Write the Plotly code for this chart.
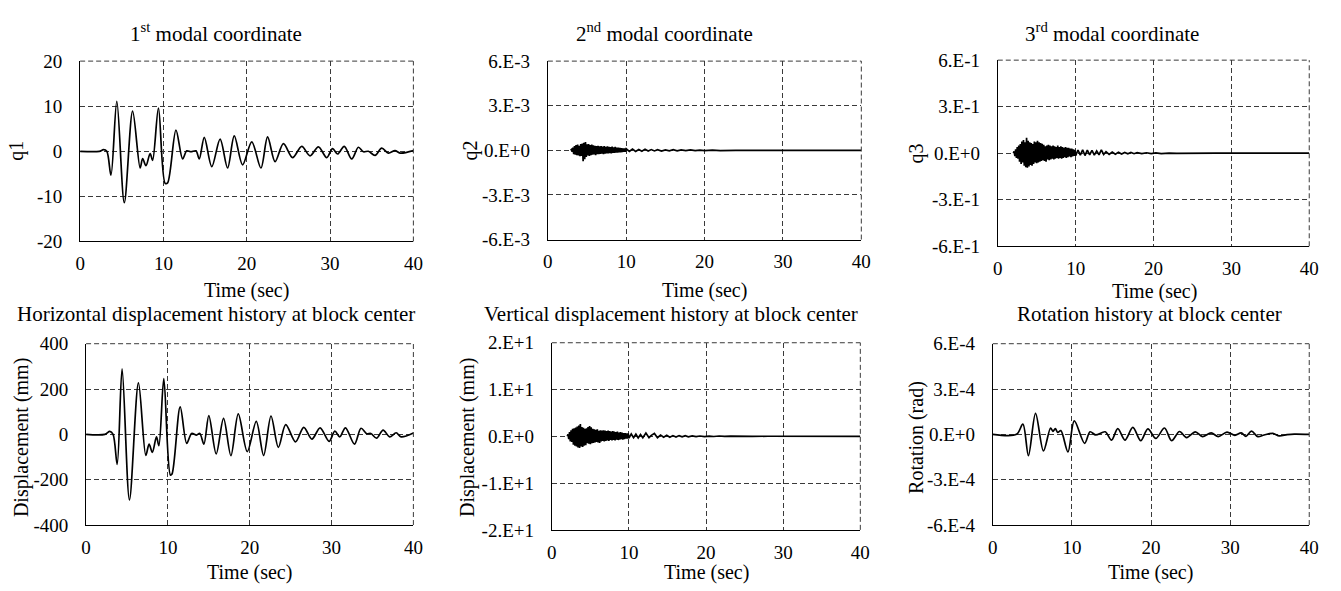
import plotly.graph_objects as go

# ---------------- data ----------------
# 1st modal coordinate q1
q1_t = [0, 2.3, 2.8, 3.2, 3.7, 4.4, 5.3, 6.3, 7.2, 7.5, 7.9, 8.4, 8.7, 9.4, 10.2, 10.5, 11.5, 12.3, 12.8,
        13.3, 13.9, 14.3, 14.9, 15.8, 16.8, 17.7, 18.5, 19.5, 20.6, 21.7, 22.5, 23.4, 24.4, 25.5, 26.6,
        27.6, 28.6, 29.6, 30.3, 30.9, 31.7, 32.6, 33.4, 34.0, 34.6, 35.4, 36.2, 37.0, 37.8, 38.4, 40]
q1_v = [0, 0, 0.35, 0, -5.3, 11.1, -11.4, 8.9, -3.7, -1.6, -3.2, -0.5, -2.0, 9.6, -7.1, -7.0, 4.7, -1.7, 0.1,
        -0.1, 0.1, -1.7, 3.1, -3.4, 2.7, -3.7, 3.4, -3.0, 2.1, -3.7, 3.2, -2.3, 1.7, -1.4, 1.1,
        -1.0, 1.0, -1.4, 0.6, -0.6, 1.1, -1.7, 0.9, -0.1, 0.0, -0.9, 0.7, -0.4, 0.15, -0.4, 0.15]

# 2nd modal coordinate q2 (dense part sampled every 0.1 s from 2.9 s)
q2_dense_start = 2.9
q2_dense = [0, 0.5e-4, -1.0e-4, 1.8e-4, -2.5e-4, 2.8e-4, -3.0e-4, 3.5e-4, -3.2e-4, 3.8e-4, -3.5e-4,
            3.0e-4, -4.0e-4, 4.2e-4, -3.8e-4, 4.5e-4, -7.3e-4, 5.0e-4, -6.0e-4, 5.6e-4, -4.5e-4,
            4.0e-4, -3.5e-4, 4.2e-4, -3.8e-4, 3.6e-4, -3.2e-4, 3.8e-4, -3.0e-4, 3.4e-4, -2.8e-4,
            3.0e-4, -3.2e-4, 2.8e-4, -2.6e-4, 3.1e-4, -2.5e-4, 2.7e-4, -2.4e-4, 2.9e-4, -2.2e-4,
            2.5e-4, -2.6e-4, 2.9e-4, -2.3e-4, 2.4e-4, -2.0e-4, 2.6e-4, -2.1e-4, 2.3e-4, -1.9e-4,
            2.2e-4, -2.0e-4, 2.5e-4, -1.8e-4, 2.0e-4, -1.7e-4, 2.3e-4, -1.6e-4, 1.9e-4, -1.5e-4,
            1.8e-4, -1.4e-4, 1.6e-4, -1.3e-4, 1.5e-4, -1.2e-4, 1.3e-4, -1.0e-4, 1.2e-4, -0.9e-4,
            1.0e-4]
q2_tail_t = [10.4, 10.8, 11.2, 11.6, 12.0, 12.4, 12.8, 13.2, 13.6, 14.0, 14.5, 15.0, 15.5, 16.0, 16.5,
             17.0, 17.6, 18.2, 18.8, 19.4, 20.0, 21.0, 22.0, 23.0, 24.0, 25.0, 27.0, 30.0, 40.0]
q2_tail_v = [-0.8e-4, 0.9e-4, -0.7e-4, 0.6e-4, -0.6e-4, 0.8e-4, -0.5e-4, 0.5e-4, -0.4e-4, 0.4e-4,
             -0.5e-4, 0.3e-4, -0.3e-4, 0.4e-4, -0.3e-4, 0.3e-4, -0.2e-4, 0.25e-4, -0.2e-4, 0.15e-4,
             -0.15e-4, 0.12e-4, -0.15e-4, 0.1e-4, -0.08e-4, 0.05e-4, -0.03e-4, 0, 0]

# 3rd modal coordinate q3 (dense part sampled every 0.1 s from 2.0 s)
q3_dense_start = 2.0
q3_dense = [0.0, 0.012, -0.018, 0.025, -0.03, 0.04, -0.035, 0.05, -0.055, 0.06,
            -0.07, 0.075, -0.06, 0.085, -0.08, 0.07, -0.09, 0.10, -0.093, 0.08,
            -0.085, 0.07, -0.075, 0.065, -0.08, 0.06, -0.07, 0.075, -0.06, 0.07,
            -0.065, 0.08, -0.06, 0.07, -0.055, 0.065, -0.05, 0.06, -0.045, 0.055,
            -0.05, 0.045, -0.055, 0.05, -0.04, 0.055, -0.045, 0.05, -0.04, 0.045,
            -0.035, 0.05, -0.04, 0.045, -0.035, 0.04, -0.03, 0.05, -0.035, 0.04,
            -0.03, 0.045, -0.035, 0.04, -0.03, 0.035, -0.025, 0.04, -0.03, 0.035,
            -0.025, 0.035, -0.02, 0.03, -0.025, 0.03, -0.02, 0.025, -0.018, 0.022,
            -0.015]
q3_tail_t = [10.3, 10.6, 10.9, 11.2, 11.5, 11.8, 12.1, 12.4, 12.7, 13.0, 13.3, 13.6, 13.9, 14.3, 14.7,
             15.1, 15.5, 15.9, 16.3, 16.7, 17.1, 17.5, 17.9, 18.5, 19.1, 19.7, 20.3, 21.0, 22.0, 23.0,
             25.0, 28.0, 40.0]
q3_tail_v = [0.02, -0.012, 0.022, -0.015, 0.02, -0.01, 0.018, -0.012, 0.015, -0.01, 0.022, -0.008, 0.01,
             -0.008, 0.008, -0.006, 0.006, -0.005, 0.005, -0.004, 0.005, -0.003, 0.004, -0.003, 0.003,
             -0.002, 0.002, -0.002, 0.001, -0.001, 0.0005, 0, 0]

# Horizontal displacement at block center (mm)
hd_t = [0, 2.3, 2.9, 3.3, 3.8, 4.4, 5.3, 6.4, 7.3, 7.7, 8.1, 8.6, 8.9, 9.5, 10.3, 10.5, 11.5, 12.3, 12.9,
        13.5, 13.9, 14.4, 15.0, 15.9, 16.8, 17.7, 18.6, 19.7, 20.8, 21.7, 22.6, 23.5, 24.4, 25.6, 26.6,
        27.6, 28.6, 29.7, 30.4, 31.0, 31.7, 32.8, 33.6, 34.3, 34.8, 35.5, 36.3, 37.1, 37.9, 38.5, 40]
hd_v = [0, 0, 13, 0, -133, 289, -289, 227, -93, -43, -79, -11, -50, 246, -179, -175, 121, -40, 4,
        -3, 4, -43, 83, -86, 71, -94, 90, -76, 57, -93, 81, -57, 43, -33, 31,
        -21, 29, -31, 14, -11, 29, -43, 27, 3, 4, -17, 19, -11, 7, -11, 6]

# Vertical displacement at block center (mm) (dense part every 0.1 s from 2.0 s)
vd_dense_start = 2.0
vd_dense = [0.0, 0.4, -0.6, 0.9, -1.1, 1.3, -1.2, 1.6, -1.8, 1.7,
            -2.0, 1.9, -2.2, 2.1, -2.4, 2.3, -2.5, 2.6, -2.2, 2.0,
            -2.3, 1.8, -2.0, 1.6, -1.9, 1.7, -1.5, 2.0, -1.6, 2.2,
            -1.7, 1.9, -1.5, 1.6, -1.4, 1.5, -1.3, 1.4, -1.2, 1.5,
            -1.3, 1.2, -1.4, 1.3, -1.1, 1.2, -1.0, 1.3, -1.1, 1.2,
            -1.0, 1.1, -0.9, 1.2, -1.0, 1.1, -0.8, 1.0, -0.9, 1.1,
            -0.8, 1.0, -0.9, 0.9, -0.7, 1.0, -0.8, 0.8, -0.7, 0.9,
            -0.6, 0.8, -0.7, 0.7, -0.6, 0.7, -0.5, 0.6, -0.5, 0.6,
            -0.4]
vd_tail_t = [10.3, 10.6, 10.9, 11.2, 11.5, 11.8, 12.2, 12.6, 12.9, 13.3, 13.7, 14.1, 14.5, 14.9, 15.3,
             15.7, 16.1, 16.5, 16.9, 17.3, 17.7, 18.2, 18.7, 19.2, 19.8, 20.4, 21.0, 21.7, 22.4, 23.2,
             24.0, 25.0, 26.0, 28.0, 30.0, 40.0]
vd_tail_v = [0.5, -0.3, 0.45, -0.35, 0.4, -0.3, 0.7, -0.3, 0.2, 0.6, -0.3, 0.25, -0.2, 0.2, -0.2,
             0.15, -0.15, 0.15, -0.12, 0.12, -0.1, 0.08, -0.08, 0.06, -0.06, 0.05, -0.04, 0.06, -0.03, 0.03,
             -0.02, 0.02, -0.01, 0.01, 0, 0]

# Rotation at block center (rad)
rot_t = [0, 3.0, 3.8, 4.5, 5.4, 6.4, 7.3, 7.6, 7.9, 8.2, 8.6, 9.5, 10.3, 11.6, 12.3, 13.0, 14.2, 15.0, 15.8,
         16.7, 17.7, 18.7, 19.6, 20.6, 21.7, 22.6, 23.6, 24.5, 25.6, 26.5, 27.6, 28.5, 29.6, 30.6, 31.4,
         32.0, 32.7, 33.5, 34.3, 35.4, 36.2, 37.2, 38.1, 40]
rot_v = [0, 0, 0.68e-4, -1.41e-4, 1.39e-4, -1.1e-4, 0.42e-4, 0.2e-4, 0.38e-4, 0.13e-4, 0.25e-4, -1.16e-4,
         0.89e-4, -0.59e-4, 0.17e-4, -0.04e-4, 0.17e-4, -0.38e-4, 0.38e-4, -0.38e-4, 0.46e-4, -0.42e-4,
         0.36e-4, -0.27e-4, 0.42e-4, -0.42e-4, 0.19e-4, -0.21e-4, 0.17e-4, -0.15e-4, 0.1e-4, -0.15e-4,
         0.15e-4, -0.06e-4, 0.1e-4, -0.13e-4, 0.21e-4, -0.15e-4, -0.04e-4, 0.06e-4, -0.1e-4, -0.02e-4,
         0.02e-4, 0]

x_ticks = [0, 10, 20, 30, 40]
q1_ticks = [-20, -10, 0, 10, 20]
q1_labels = ["-20", "-10", "0", "10", "20"]
q2_ticks = [-6e-3, -3e-3, 0, 3e-3, 6e-3]
q2_labels = ["-6.E-3", "-3.E-3", "0.E+0", "3.E-3", "6.E-3"]
q3_ticks = [-0.6, -0.3, 0, 0.3, 0.6]
q3_labels = ["-6.E-1", "-3.E-1", "0.E+0", "3.E-1", "6.E-1"]
hd_ticks = [-400, -200, 0, 200, 400]
hd_labels = ["-400", "-200", "0", "200", "400"]
vd_ticks = [-20, -10, 0, 10, 20]
vd_labels = ["-2.E+1", "-1.E+1", "0.E+0", "1.E+1", "2.E+1"]
rot_ticks = [-6e-4, -3e-4, 0, 3e-4, 6e-4]
rot_labels = ["-6.E-4", "-3.E-4", "0.E+0", "3.E-4", "6.E-4"]

titles = ["1<sup>st</sup> modal coordinate", "2<sup>nd</sup> modal coordinate", "3<sup>rd</sup> modal coordinate",
          "Horizontal displacement history at block center", "Vertical displacement history at block center",
          "Rotation history at block center"]
y_titles = ["q1", "q2", "q3", "Displacement (mm)", "Displacement (mm)", "Rotation (rad)"]
x_title = "Time (sec)"


def dense_times(start, n):
    return [round(start + 0.1 * i, 2) for i in range(n)]


series = [
    (q1_t, q1_v),
    (dense_times(q2_dense_start, len(q2_dense)) + q2_tail_t, q2_dense + q2_tail_v),
    (dense_times(q3_dense_start, len(q3_dense)) + q3_tail_t, q3_dense + q3_tail_v),
    (hd_t, hd_v),
    (dense_times(vd_dense_start, len(vd_dense)) + vd_tail_t, vd_dense + vd_tail_v),
    (rot_t, rot_v),
]
smooth = [True, False, False, True, False, True]
yt = [(q1_ticks, q1_labels), (q2_ticks, q2_labels), (q3_ticks, q3_labels),
      (hd_ticks, hd_labels), (vd_ticks, vd_labels), (rot_ticks, rot_labels)]

# ---------------- layout (pixel boxes) ----------------
W, H = 1341, 591
boxes = [(76, 413, 53, 240), (549, 866, 53, 238), (1004, 1319, 52, 245),
         (82, 413, 346, 534), (553, 865, 345, 539), (999, 1319, 346, 534)]
title_pos = [(213, 23), (667, 23), (1120, 23), (213, 315), (674, 315), (1157, 315)]
xt_pos = [(244, 291), (707, 291), (1162, 292), (247, 583), (709, 583), (1158, 583)]
yt_pos = [(12, 146), (471, 146), (922, 149), (16, 443), (467, 443), (922, 443)]

FONT = "Liberation Serif"
GRID = "#3a3a3a"
fig = go.Figure()
annotations = []
shapes = []
for i, ((tx, ty), sm) in enumerate(zip(series, smooth)):
    k = "" if i == 0 else str(i + 1)
    fig.add_trace(go.Scatter(x=tx, y=ty, mode="lines",
                             line=dict(color="black", width=1.7, shape="spline" if sm else "linear",
                                       smoothing=0.9),
                             xaxis="x" + k, yaxis="y" + k, showlegend=False, hoverinfo="skip"))
    x0, x1, y0, y1 = boxes[i]
    common = dict(showgrid=True, gridcolor=GRID, gridwidth=1, griddash="5px,3px",
                  zeroline=False, showline=True, linecolor="black", linewidth=1, mirror=False,
                  ticks="", tickfont=dict(family=FONT, size=19, color="black"))
    fig.update_layout(**{
        "xaxis" + k: dict(domain=[x0 / W, x1 / W], range=[0, 40], tickvals=x_ticks,
                          anchor="y" + k, ticklabelstandoff=5, **common),
        "yaxis" + k: dict(domain=[1 - y1 / H, 1 - y0 / H], range=[yt[i][0][0], yt[i][0][-1]],
                          tickvals=yt[i][0], ticktext=yt[i][1], anchor="x" + k,
                          ticklabelstandoff=13, **common),
    })
    # dashed top and right borders of the plot frame
    shapes.append(dict(type="line", xref="x" + k + " domain", yref="y" + k + " domain",
                       x0=0, x1=1, y0=1, y1=1, line=dict(color=GRID, width=1, dash="5px,3px")))
    shapes.append(dict(type="line", xref="x" + k + " domain", yref="y" + k + " domain",
                       x0=1, x1=1, y0=0, y1=1, line=dict(color=GRID, width=1, dash="5px,3px")))
    annotations.append(dict(text=titles[i], x=title_pos[i][0] / W, y=1 - title_pos[i][1] / H,
                            xref="paper", yref="paper", showarrow=False, xanchor="center", yanchor="middle",
                            font=dict(family=FONT, size=21, color="black")))
    annotations.append(dict(text=x_title, x=xt_pos[i][0] / W, y=1 - xt_pos[i][1] / H,
                            xref="paper", yref="paper", showarrow=False, xanchor="center", yanchor="middle",
                            font=dict(family=FONT, size=20, color="black")))
    annotations.append(dict(text=y_titles[i], x=yt_pos[i][0] / W, y=1 - yt_pos[i][1] / H,
                            xref="paper", yref="paper", showarrow=False, xanchor="center", yanchor="middle",
                            textangle=-90, font=dict(family=FONT, size=20, color="black")))

fig.update_layout(width=W, height=H, margin=dict(l=0, r=0, t=0, b=0),
                  paper_bgcolor="white", plot_bgcolor="white", annotations=annotations, shapes=shapes)
fig.write_html("out.html")
